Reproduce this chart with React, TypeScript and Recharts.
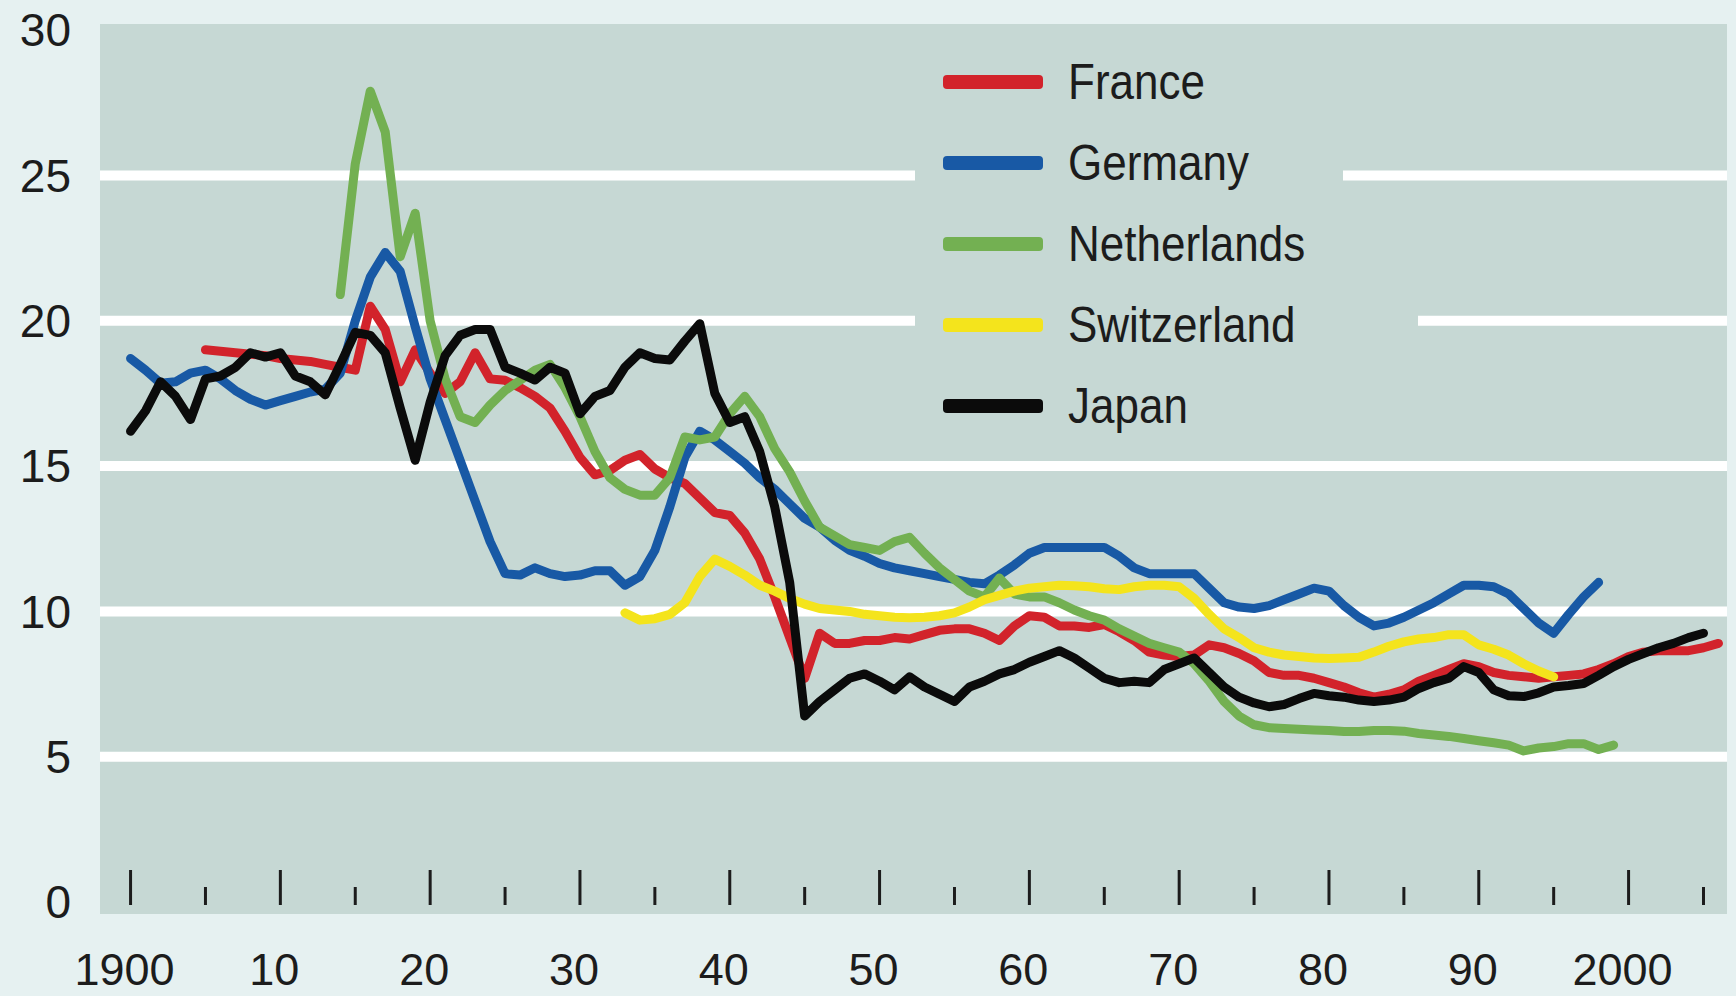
import { CartesianGrid, Legend, Line, LineChart, ReferenceLine, XAxis, YAxis } from "recharts";

// values, one per year from each start year
const franceStart = 1905;
const franceValues = [
  19.0, 18.95, 18.9, 18.85, 18.8,
  18.7, 18.65, 18.6, 18.5, 18.4, 18.3, 20.5, 19.7, 17.9, 19.0,
  18.2, 17.5, 17.9, 18.9, 18.0, 17.95, 17.7, 17.4, 17.0, 16.2,
  15.3, 14.7, 14.85, 15.2, 15.4, 14.9, 14.6, 14.4, 13.9, 13.4,
  13.3, 12.7, 11.8, 10.5, 9.1, 7.7, 9.25, 8.9, 8.9, 9.0,
  9.0, 9.1, 9.05, 9.2, 9.35, 9.4, 9.4, 9.25, 9.0, 9.5,
  9.85, 9.8, 9.5, 9.5, 9.45, 9.55, 9.3, 9.0, 8.6, 8.5,
  8.45, 8.5, 8.85, 8.75, 8.55, 8.3, 7.9, 7.8, 7.8, 7.7,
  7.55, 7.4, 7.2, 7.05, 7.15, 7.3, 7.6, 7.8, 8.0, 8.2,
  8.1, 7.9, 7.8, 7.75, 7.7, 7.75, 7.8, 7.85, 8.0, 8.2,
  8.45, 8.6, 8.65, 8.65, 8.65, 8.75, 8.9,
];

const germanyStart = 1900;
const germanyValues = [
  18.7, 18.3, 17.85, 17.9, 18.2, 18.3, 18.0, 17.6, 17.3, 17.1,
  17.25, 17.4, 17.55, 17.65, 18.2, 20.0, 21.5, 22.35, 21.7, 19.8,
  18.0, 16.6, 15.2, 13.8, 12.4, 11.3, 11.25, 11.5, 11.3, 11.2,
  11.25, 11.4, 11.4, 10.9, 11.2, 12.1, 13.6, 15.3, 16.2, 15.9,
  15.5, 15.1, 14.6, 14.2, 13.7, 13.2, 12.9, 12.45, 12.1, 11.9,
  11.65, 11.5, 11.4, 11.3, 11.2, 11.1, 11.0, 10.95, 11.25, 11.6,
  12.0, 12.2, 12.2, 12.2, 12.2, 12.2, 11.9, 11.5, 11.3, 11.3,
  11.3, 11.3, 10.8, 10.3, 10.15, 10.1, 10.2, 10.4, 10.6, 10.8,
  10.7, 10.2, 9.8, 9.5, 9.6, 9.8, 10.05, 10.3, 10.6, 10.9,
  10.9, 10.85, 10.6, 10.1, 9.6, 9.25, 9.9, 10.5, 11.0,
];

const netherlandsStart = 1914;
const netherlandsValues = [
  20.9, 25.4, 27.9, 26.5, 22.2, 23.7,
  20.0, 18.0, 16.7, 16.5, 17.1, 17.6, 17.95, 18.3, 18.5, 17.7,
  16.7, 15.5, 14.6, 14.2, 14.0, 14.0, 14.6, 16.0, 15.9, 16.0,
  16.8, 17.4, 16.7, 15.6, 14.8, 13.8, 12.9, 12.6, 12.3, 12.2,
  12.1, 12.4, 12.55, 12.0, 11.5, 11.1, 10.7, 10.5, 11.15, 10.6,
  10.5, 10.5, 10.3, 10.05, 9.85, 9.7, 9.4, 9.15, 8.9, 8.75,
  8.6, 8.2, 7.6, 6.9, 6.4, 6.1, 6.0, 5.97, 5.95, 5.92,
  5.9, 5.87, 5.87, 5.9, 5.9, 5.88, 5.8, 5.75, 5.7, 5.63,
  5.55, 5.48, 5.4, 5.2, 5.3, 5.35, 5.45, 5.45, 5.25, 5.4,
];

const switzerlandStart = 1933;
const switzerlandValues = [
  9.95, 9.7, 9.75, 9.9, 10.3, 11.2, 11.8,
  11.55, 11.25, 10.9, 10.7, 10.45, 10.25, 10.1, 10.05, 10.0, 9.9,
  9.85, 9.8, 9.78, 9.8, 9.85, 9.95, 10.15, 10.4, 10.55, 10.7,
  10.8, 10.85, 10.9, 10.88, 10.85, 10.78, 10.75, 10.85, 10.9, 10.9,
  10.85, 10.45, 9.9, 9.4, 9.1, 8.75, 8.6, 8.5, 8.45, 8.4,
  8.38, 8.4, 8.42, 8.6, 8.8, 8.95, 9.05, 9.1, 9.2, 9.2,
  8.85, 8.7, 8.5, 8.2, 7.95, 7.75,
];

const japanStart = 1900;
const japanValues = [
  16.2, 16.9, 17.9, 17.4, 16.6, 18.0, 18.1, 18.4, 18.9, 18.75,
  18.9, 18.1, 17.9, 17.45, 18.5, 19.6, 19.5, 18.9, 17.0, 15.2,
  17.2, 18.8, 19.5, 19.7, 19.7, 18.4, 18.2, 17.96, 18.4, 18.2,
  16.8, 17.4, 17.6, 18.4, 18.9, 18.7, 18.65, 19.3, 19.9, 17.5,
  16.5, 16.7, 15.5, 13.6, 11.0, 6.4, 6.9, 7.3, 7.7, 7.85,
  7.6, 7.3, 7.75, 7.4, 7.15, 6.9, 7.4, 7.6, 7.85, 8.0,
  8.25, 8.45, 8.65, 8.4, 8.05, 7.7, 7.55, 7.6, 7.55, 8.0,
  8.2, 8.4, 7.9, 7.4, 7.05, 6.85, 6.72, 6.8, 7.0, 7.18,
  7.1, 7.05, 6.95, 6.9, 6.95, 7.05, 7.35, 7.55, 7.7, 8.1,
  7.9, 7.3, 7.1, 7.07, 7.2, 7.4, 7.45, 7.52, 7.8, 8.1,
  8.35, 8.55, 8.75, 8.9, 9.1, 9.25,
];

const series = [
  { name: "France", start: franceStart, values: franceValues, color: "#d2232b" },
  { name: "Germany", start: germanyStart, values: germanyValues, color: "#1859a5" },
  { name: "Netherlands", start: netherlandsStart, values: netherlandsValues, color: "#73b052" },
  { name: "Switzerland", start: switzerlandStart, values: switzerlandValues, color: "#f4e41c" },
  { name: "Japan", start: japanStart, values: japanValues, color: "#0b0b0b" },
];
const legendOrder = series.map((s) => s.name);

const firstYear = 1900;
const lastYear = 2006;
const yTicks = [0, 5, 10, 15, 20, 25, 30];
const gridValues = [5, 10, 15, 20, 25];
const xTicks = [
  1900, 1905, 1910, 1915, 1920, 1925, 1930, 1935, 1940, 1945, 1950,
  1955, 1960, 1965, 1970, 1975, 1980, 1985, 1990, 1995, 2000, 2005,
];

const rows = [];
for (let year = firstYear; year <= lastYear; year++) {
  const row: Record<string, number | null> = { year };
  series.forEach((s) => {
    const i = year - s.start;
    row[s.name] = i >= 0 && i < s.values.length ? s.values[i] : null;
  });
  rows.push(row);
}

const PAGE_BG = "#e6f1f1";
const PLOT_BG = "#c6d8d4";
const INK = "#1c1c1c";
const AXIS_FONT = "'Liberation Sans', Arial, sans-serif";

function yearLabel(year: number) {
  if (year === 1900 || year === 2000) return String(year);
  return String(year).slice(2);
}

// tick marks sit inside the panel, labels below it
function YearTick({ x, y, payload }: any) {
  const year = payload.value;
  const major = year % 10 === 0;
  const base = y - 64;
  return (
    <g>
      <line x1={x} x2={x} y1={base} y2={base - (major ? 35 : 18)} stroke={INK} strokeWidth={3} />
      {major && (
        <text x={x - 6} y={y} dy="0.355em" textAnchor="middle" fontSize={45} fontFamily={AXIS_FONT} fill={INK}>
          {yearLabel(year)}
        </text>
      )}
    </g>
  );
}

function CountryLegend({ payload }: any) {
  const items = [...(payload || [])].sort(
    (a: any, b: any) => legendOrder.indexOf(a.value) - legendOrder.indexOf(b.value)
  );
  return (
    <div style={{ display: "flex", flexDirection: "column" }}>
      {items.map((entry: any) => (
        <div
          key={entry.value}
          style={{
            display: "flex",
            alignItems: "center",
            height: 81,
            width: 297 + entry.value.length * 18.75,
            paddingLeft: 28,
            boxSizing: "border-box",
            background: PLOT_BG,
          }}
        >
          <span style={{ width: 100, height: 14, background: entry.color, borderRadius: 4 }} />
          <span
            style={{
              display: "inline-block",
              marginLeft: 25,
              fontSize: 50,
              lineHeight: 1,
              fontFamily: AXIS_FONT,
              color: INK,
              transform: "scaleX(0.88)",
              transformOrigin: "left center",
              whiteSpace: "nowrap",
            }}
          >
            {entry.value}
          </span>
        </div>
      ))}
    </div>
  );
}

export default function App() {
  return (
    <div style={{ width: 1736, height: 996, background: PAGE_BG }}>
      <style>{"body{margin:0}"}</style>
      <LineChart width={1736} height={996} data={rows} margin={{ top: 24, right: 9, bottom: 0, left: 0 }}>
        <CartesianGrid fill={PLOT_BG} stroke="none" horizontal={false} vertical={false} />
        {gridValues.map((v) => (
          <ReferenceLine key={v} y={v} stroke="#ffffff" strokeWidth={10} />
        ))}
        <XAxis
          dataKey="year"
          type="number"
          domain={[1897.96, 2006.57]}
          allowDataOverflow
          ticks={xTicks}
          interval={0}
          axisLine={false}
          tickLine={false}
          tickSize={0}
          tickMargin={55}
          height={82}
          tick={<YearTick />}
        />
        <YAxis
          type="number"
          domain={[-0.41, 30.21]}
          allowDataOverflow
          ticks={yTicks}
          interval={0}
          axisLine={false}
          tickLine={false}
          tickSize={0}
          tickMargin={29}
          width={100}
          tick={{ fontSize: 46, fill: INK, fontFamily: AXIS_FONT }}
        />
        <Legend
          layout="vertical"
          align="center"
          verticalAlign="middle"
          wrapperStyle={{ left: 915, top: 41, width: "auto" }}
          content={<CountryLegend />}
        />
        {series.map((s) => (
          <Line
            key={s.name}
            dataKey={s.name}
            name={s.name}
            type="linear"
            stroke={s.color}
            strokeWidth={9}
            strokeLinejoin="round"
            strokeLinecap="round"
            dot={false}
            activeDot={false}
            isAnimationActive={false}
          />
        ))}
      </LineChart>
    </div>
  );
}
